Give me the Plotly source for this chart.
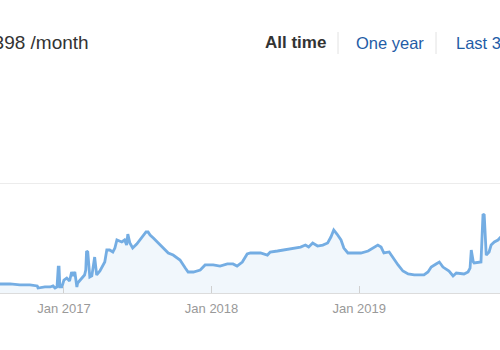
import plotly.graph_objects as go

# Data
dates = [
    "2016-07-01", "2016-07-27", "2016-08-21", "2016-09-14", "2016-10-09", "2016-10-27", "2016-10-29",
    "2016-11-15", "2016-11-28", "2016-12-05", "2016-12-10", "2016-12-15", "2016-12-18",
    "2016-12-20", "2016-12-22", "2016-12-27", "2017-01-01", "2017-01-08", "2017-01-15",
    "2017-01-20", "2017-01-23", "2017-01-28", "2017-02-02", "2017-02-04", "2017-02-14",
    "2017-02-21", "2017-02-24", "2017-02-26", "2017-03-01", "2017-03-06", "2017-03-11",
    "2017-03-16", "2017-03-18", "2017-03-23", "2017-03-31", "2017-04-12", "2017-04-17",
    "2017-04-24", "2017-05-02", "2017-05-07", "2017-05-12", "2017-05-24", "2017-05-31",
    "2017-06-05", "2017-06-08", "2017-06-13", "2017-06-20", "2017-06-30", "2017-07-08",
    "2017-07-15", "2017-07-23", "2017-07-28", "2017-08-02", "2017-08-10", "2017-08-20",
    "2017-09-03", "2017-09-16", "2017-09-28", "2017-10-15", "2017-10-28", "2017-11-04",
    "2017-11-17", "2017-12-04", "2017-12-16", "2018-01-05", "2018-01-22", "2018-02-09",
    "2018-02-23", "2018-03-05", "2018-03-18", "2018-03-30", "2018-04-07", "2018-05-02",
    "2018-05-19", "2018-05-26", "2018-06-13", "2018-06-28", "2018-07-15", "2018-08-09",
    "2018-08-21", "2018-08-29", "2018-09-08", "2018-09-20", "2018-10-03", "2018-10-15",
    "2018-10-23", "2018-10-30", "2018-11-07", "2018-11-17", "2018-11-24", "2018-12-04",
    "2018-12-19", "2019-01-05", "2019-01-23", "2019-02-04", "2019-02-16", "2019-02-24",
    "2019-03-03", "2019-03-16", "2019-03-26", "2019-04-07", "2019-04-19", "2019-05-02",
    "2019-05-17", "2019-06-10", "2019-06-20", "2019-06-28", "2019-07-10", "2019-07-18",
    "2019-07-27", "2019-08-04", "2019-08-11", "2019-08-21", "2019-08-29", "2019-09-17",
    "2019-09-27", "2019-10-02", "2019-10-05", "2019-10-10", "2019-10-12", "2019-10-29",
    "2019-11-01", "2019-11-03", "2019-11-06", "2019-11-08", "2019-11-11", "2019-11-18",
    "2019-11-23", "2019-12-01", "2019-12-10", "2019-12-17", "2019-12-25",
]
values = [
    82, 82, 82, 73, 73, 64, 45,
    55, 55, 64, 45, 55, 236,
    236, 55, 55, 118, 136, 109,
    191, 155, 191, 55, 91, 136,
    164, 209, 382, 373, 145, 155,
    282, 327, 164, 200, 282, 391,
    391, 373, 409, 482, 464, 482,
    436, 536, 455, 409, 445, 482,
    518, 555, 555, 527, 500, 464,
    409, 364, 345, 300, 227, 191,
    191, 209, 255, 255, 245, 264,
    264, 245, 282, 355, 364, 364,
    345, 373, 382, 391, 400, 418,
    436, 418, 455, 427, 436, 455,
    509, 573, 536, 482, 409, 364,
    364, 364, 382, 409, 436, 418,
    364, 373, 318, 255, 200, 173,
    164, 164, 191, 236, 264, 282,
    236, 218, 200, 155, 182, 173,
    191, 227, 391, 282, 273, 282,
    482, 718, 709, 482, 345, 373,
    436, 464, 482, 509, 520,
]
tick_dates = ["2017-01-01", "2018-01-01", "2019-01-01", "2020-01-01"]
tick_labels = ["Jan 2017", "Jan 2018", "Jan 2019", "Jan 2020"]
y_grid = [0, 1000, 2000]

title_text = "$398 /month"
range_buttons = ["All time", "One year", "Last 30 days"]

fig = go.Figure()
fig.add_trace(go.Scatter(
    x=dates, y=values, mode="lines",
    line=dict(color="#74ade3", width=2.8),
    fill="tozeroy", fillcolor="rgba(118,175,227,0.10)",
    hoverinfo="skip",
))

W, H = 500, 350
top, bottom = 73, 293

def py(p):
    return (bottom - p) / (bottom - top)

fig.update_layout(
    width=W, height=H,
    margin=dict(l=0, r=0, t=top, b=H - bottom),
    paper_bgcolor="white", plot_bgcolor="white",
    showlegend=False,
    font=dict(family="Liberation Sans, Arial, sans-serif"),
    xaxis=dict(
        range=["2016-07-27", "2019-12-15"],
        tickvals=tick_dates, ticktext=tick_labels,
        ticks="inside", ticklen=7, tickcolor="#d0d0d0", tickwidth=1,
        ticklabelstandoff=3,
        showgrid=False, showline=True, linecolor="#dcdcdc", linewidth=1,
        tickfont=dict(size=13, color="#999999"),
        zeroline=False, fixedrange=True,
    ),
    yaxis=dict(
        range=[0, 2001], tickvals=y_grid, showticklabels=False,
        showgrid=True, gridcolor="#ececec", gridwidth=1,
        zeroline=False, showline=False, fixedrange=True,
    ),
)

fig.add_annotation(
    text=title_text, xref="paper", yref="paper",
    x=91 / W, y=py(43), xanchor="right", yanchor="middle",
    showarrow=False, font=dict(size=19, color="#333333"),
)
fig.add_annotation(
    text="<b>" + range_buttons[0] + "</b>", xref="paper", yref="paper",
    x=263 / W, y=py(43), xanchor="left", yanchor="middle",
    showarrow=False, font=dict(size=17, color="#333333"),
)
fig.add_annotation(
    text=range_buttons[1], xref="paper", yref="paper",
    x=354 / W, y=py(43), xanchor="left", yanchor="middle",
    showarrow=False, font=dict(size=16.5, color="#1f5ca6"),
)
fig.add_annotation(
    text=range_buttons[2], xref="paper", yref="paper",
    x=454 / W, y=py(43), xanchor="left", yanchor="middle",
    showarrow=False, font=dict(size=16.5, color="#1f5ca6"),
)
for sx in (338, 436):
    fig.add_shape(type="line", xref="paper", yref="paper",
                  x0=sx / W, x1=sx / W, y0=py(32), y1=py(54),
                  line=dict(color="#e2e2e2", width=1))

fig.write_html("out.html", config={"displayModeBar": False})
